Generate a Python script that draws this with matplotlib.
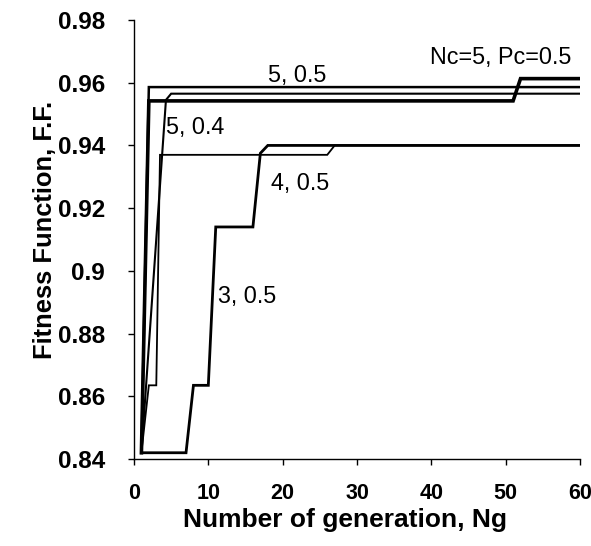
import matplotlib
matplotlib.use("Agg")
import matplotlib.pyplot as plt

# Generations (x) and fitness values (y)
x_a = [1, 2, 60]
y_a = [0.842, 0.9586, 0.9586]          # "5, 0.5"

x_b = [1, 4.3, 5, 60]
y_b = [0.842, 0.9545, 0.9565, 0.9565]  # "5, 0.4"

x_c = [1, 2, 51, 52, 60]
y_c = [0.842, 0.9542, 0.9542, 0.9613, 0.9613]  # "Nc=5, Pc=0.5"

x_d = [1, 2, 3, 3.5, 26, 27, 60]
y_d = [0.842, 0.8635, 0.8635, 0.937, 0.937, 0.940, 0.940]  # "4, 0.5"

x_e = [1, 7, 8, 10, 11, 16, 17, 18, 60]
y_e = [0.842, 0.842, 0.8635, 0.8635, 0.914, 0.914, 0.9375, 0.940, 0.940]  # "3, 0.5"

x_ticks = [0, 10, 20, 30, 40, 50, 60]
y_ticks = [0.84, 0.86, 0.88, 0.9, 0.92, 0.94, 0.96, 0.98]
y_tick_labels = ["0.84", "0.86", "0.88", "0.9", "0.92", "0.94", "0.96", "0.98"]

labels = ["5, 0.5", "5, 0.4", "Nc=5, Pc=0.5", "4, 0.5", "3, 0.5"]
label_x = [21.9, 8.2, 49.3, 22.3, 15.2]
label_y = [0.9624, 0.9458, 0.968, 0.928, 0.8917]

plt.rcParams['font.family'] = ['Liberation Sans', 'DejaVu Sans']

fig = plt.figure(figsize=(5.91, 5.46), dpi=100)
ax = fig.add_axes([0.2267, 0.1593, 0.9814 - 0.2267, 0.9634 - 0.1593])

ax.plot(x_e, y_e, color='black', lw=2.0, solid_joinstyle='miter')
ax.plot(x_d, y_d, color='black', lw=1.3, solid_joinstyle='miter')
ax.plot(x_b, y_b, color='black', lw=1.5, solid_joinstyle='miter')
ax.plot(x_a, y_a, color='black', lw=1.8, solid_joinstyle='miter')
ax.plot(x_c, y_c, color='black', lw=2.6, solid_joinstyle='miter')

for t, tx, ty in zip(labels, label_x, label_y):
    ax.text(tx, ty, t, fontsize=16.8, ha='center', va='center')

ax.set_xlim(0, 60)
ax.set_ylim(0.84, 0.98)
ax.set_xticks(x_ticks)
ax.set_yticks(y_ticks)
ax.set_yticklabels(y_tick_labels)
ax.tick_params(axis='both', direction='out', length=4, width=1)
ax.tick_params(axis='x', labelsize=15.5, pad=13)
ax.tick_params(axis='y', labelsize=17.5, pad=17)
for lbl in ax.get_xticklabels() + ax.get_yticklabels():
    lbl.set_fontweight('bold')

ax.spines['top'].set_visible(False)
ax.spines['right'].set_visible(False)
ax.spines['left'].set_linewidth(1)
ax.spines['bottom'].set_linewidth(1)

ax.set_xlabel("Number of generation, Ng", fontsize=19, fontweight='bold')
ax.set_ylabel("Fitness Function, F.F.", fontsize=18.4, fontweight='bold')
ax.xaxis.set_label_coords(0.474, -0.112)
ax.yaxis.set_label_coords(-0.173, 0.522)

fig.savefig("out.png", dpi=100)
